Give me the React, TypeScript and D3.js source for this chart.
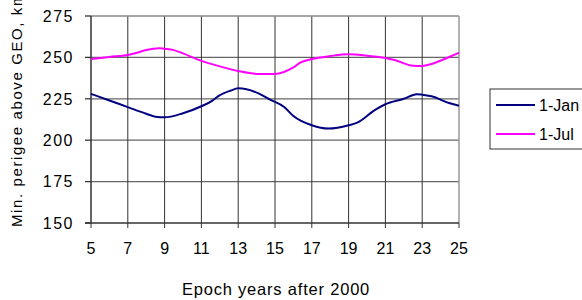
import React from 'react';
import * as d3 from 'd3';

// Epoch years (after 2000) and min. perigee above GEO (km)
const janYears = [5, 6, 7, 8, 8.5, 9, 10, 11, 11.6, 11.9, 12.6, 13, 14.1, 14.7, 15.5, 16, 17, 17.9, 19, 19.5, 20.4, 21, 22, 22.7, 23, 23.5, 24.5, 25];
const janValues = [228, 224, 220, 216, 214.2, 213.8, 216.3, 220.5, 223.9, 226.5, 230, 231.3, 228.3, 224.7, 220, 214.6, 209, 207, 209, 210.8, 218, 221.7, 225, 227.8, 227.5, 226.5, 222.3, 220.8];

const julYears = [5, 6, 7, 7.5, 8, 8.7, 9, 9.5, 10, 11, 12, 13, 14.1, 15, 16, 16.4, 17, 18, 19, 20, 21, 21.5, 22.5, 23, 23.5, 24.5, 25];
const julValues = [249, 250.3, 251.5, 252.8, 254.5, 255.6, 255.2, 254.4, 252.4, 247.9, 244.6, 241.8, 240, 240, 244, 247, 249, 250.8, 251.9, 251, 249.6, 248.4, 245, 244.8, 246, 250.4, 252.8];

const xTicks = [5, 7, 9, 11, 13, 15, 17, 19, 21, 23, 25];
const yTicks = [150, 175, 200, 225, 250, 275];

const seriesNames = ['1-Jan', '1-Jul'];
const seriesColors = ['#000080', '#ff00ff'];

const W = 582;
const H = 300;
const FONT = 'Liberation Sans, Arial, sans-serif';

const App: React.FC = () => {
  const x = d3.scaleLinear().domain([5, 25]).range([91, 459]);
  const y = d3.scaleLinear().domain([150, 275]).range([223, 16]);

  const line = d3.line<[number, number]>()
    .x(d => x(d[0]))
    .y(d => y(d[1]))
    .curve(d3.curveMonotoneX);

  const series = [
    d3.zip(janYears, janValues) as [number, number][],
    d3.zip(julYears, julValues) as [number, number][],
  ];

  return (
    <svg width={W} height={H} style={{ position: 'absolute', left: 0, top: 0, background: '#fff' }} fontFamily={FONT}>
      {/* horizontal grid */}
      {yTicks.slice(1, -1).map(t => (
        <line key={'h' + t} x1={x(5)} x2={x(25)} y1={y(t)} y2={y(t)} stroke="#666" strokeWidth={1.3} />
      ))}
      {/* vertical grid */}
      {xTicks.slice(1, -1).map(t => (
        <line key={'v' + t} x1={x(t)} x2={x(t)} y1={y(275)} y2={y(150)} stroke="#333" strokeWidth={1} />
      ))}
      {/* top + right border */}
      <line x1={x(5)} x2={x(25)} y1={y(275)} y2={y(275)} stroke="#888" strokeWidth={1.5} />
      <line x1={x(25)} x2={x(25)} y1={y(275)} y2={y(150)} stroke="#999" strokeWidth={1.5} />

      {/* axes */}
      <line x1={x(5)} x2={x(5)} y1={y(275)} y2={y(150)} stroke="#333" strokeWidth={1.5} />
      <line x1={x(5) - 6} x2={x(25)} y1={y(150)} y2={y(150)} stroke="#333" strokeWidth={1.5} />
      {xTicks.map(t => (
        <line key={'xt' + t} x1={x(t)} x2={x(t)} y1={y(150)} y2={y(150) + 5} stroke="#333" strokeWidth={1} />
      ))}
      {yTicks.map(t => (
        <line key={'yt' + t} x1={x(5) - 6} x2={x(5)} y1={y(t)} y2={y(t)} stroke="#333" strokeWidth={1.3} />
      ))}

      {/* tick labels */}
      {xTicks.map(t => (
        <text key={'xl' + t} x={x(t)} y={254} textAnchor="middle" fontSize={16} fill="#000">{t}</text>
      ))}
      {yTicks.map(t => (
        <text key={'yl' + t} x={74} y={y(t)} dy="0.36em" textAnchor="end" fontSize={16} letterSpacing={1.5} fill="#000">{t}</text>
      ))}

      {/* axis titles */}
      <text x={276} y={295} textAnchor="middle" fontSize={16.5} letterSpacing={0.8} fill="#000">Epoch years after 2000</text>
      <text transform="translate(22,227) rotate(-90)" textAnchor="start" fontSize={15} letterSpacing={1.6} fill="#000">Min. perigee above GEO, km</text>

      {/* series */}
      {series.map((s, i) => (
        <path key={seriesNames[i]} d={line(s) ?? ''} fill="none" stroke={seriesColors[i]} strokeWidth={2} />
      ))}

      {/* legend */}
      <rect x={490} y={89} width={120} height={60} fill="#fff" stroke="#333" strokeWidth={1} />
      {seriesNames.map((n, i) => (
        <g key={'lg' + n}>
          <line x1={496} x2={535} y1={105 + i * 29} y2={105 + i * 29} stroke={seriesColors[i]} strokeWidth={2} />
          <text x={539} y={105 + i * 29} dy="0.36em" fontSize={16} fill="#000">{n}</text>
        </g>
      ))}
    </svg>
  );
};

export default App;
